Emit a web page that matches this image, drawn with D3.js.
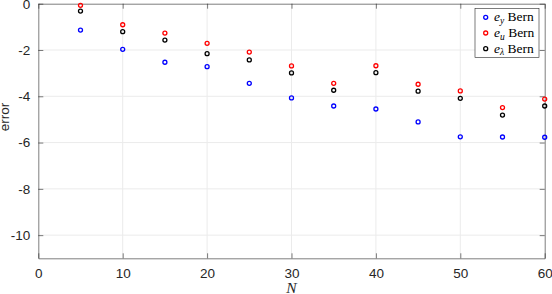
<!DOCTYPE html>
<html>
<head>
<meta charset="utf-8">
<script src="https://cdn.jsdelivr.net/npm/d3@7"></script>
<style>
  body { margin: 0; background: #fff; }
  svg { display: block; }
  .tick text { font-family: "Liberation Sans", Arial, sans-serif; font-size: 13.5px; fill: #262626; }
</style>
</head>
<body>
<svg id="chart" width="552" height="294"></svg>
<script>
const nValues = [5, 10, 15, 20, 25, 30, 35, 40, 45, 50, 55, 60];
const eY = [-1.14, -1.97, -2.53, -2.72, -3.44, -4.07, -4.42, -4.55, -5.11, -5.75, -5.76, -5.77];
const eU = [-0.07, -0.91, -1.27, -1.71, -2.09, -2.69, -3.44, -2.68, -3.48, -3.77, -4.49, -4.12];
const eL = [-0.32, -1.21, -1.57, -2.16, -2.43, -2.99, -3.74, -2.98, -3.78, -4.09, -4.81, -4.42];
const xTicks = [0, 10, 20, 30, 40, 50, 60];
const yTicks = [0, -2, -4, -6, -8, -10];

const series = [
  { name: "y", values: eY, color: "#0000ff" },
  { name: "u", values: eU, color: "#ff0000" },
  { name: "λ", values: eL, color: "#000000" }
];

const svg = d3.select("#chart");
const mLeft = 38.3, mRight = 544.7, mTop = 3.7, mBottom = 258.3;

const x = d3.scaleLinear().domain([0, 60]).range([mLeft, mRight]);
const y = d3.scaleLinear().domain([-11, 0]).range([mBottom, mTop]);

// grid
svg.append("g").selectAll("line").data(xTicks.slice(1, -1)).enter().append("line")
  .attr("x1", d => x(d)).attr("x2", d => x(d)).attr("y1", mTop).attr("y2", mBottom)
  .attr("stroke", "#ebebeb").attr("stroke-width", 1);
svg.append("g").selectAll("line").data(yTicks.slice(1)).enter().append("line")
  .attr("x1", mLeft).attr("x2", mRight).attr("y1", d => y(d)).attr("y2", d => y(d))
  .attr("stroke", "#ebebeb").attr("stroke-width", 1);

// axes
svg.append("g").attr("transform", "translate(0," + mBottom + ")")
  .call(d3.axisBottom(x).tickValues(xTicks).tickSizeInner(-5).tickSizeOuter(0).tickPadding(10));
svg.append("g").attr("transform", "translate(" + mLeft + ",0)")
  .call(d3.axisLeft(y).tickValues(yTicks).tickSizeInner(-5).tickSizeOuter(0).tickPadding(8)
    .tickFormat(d => d === 0 ? "0" : "-" + Math.abs(d)));
// mirrored ticks on top/right
svg.append("g").attr("transform", "translate(0," + mTop + ")")
  .call(d3.axisTop(x).tickValues(xTicks).tickSizeInner(-5).tickSizeOuter(0).tickFormat(""));
svg.append("g").attr("transform", "translate(" + mRight + ",0)")
  .call(d3.axisRight(y).tickValues(yTicks).tickSizeInner(-5).tickSizeOuter(0).tickFormat(""));
svg.selectAll(".domain, .tick line").attr("stroke", "#262626").attr("stroke-width", 0.6);

// markers
series.forEach(s => {
  svg.append("g").selectAll("circle").data(nValues).enter().append("circle")
    .attr("cx", d => x(d)).attr("cy", (d, i) => y(s.values[i])).attr("r", 2)
    .attr("fill", "none").attr("stroke", s.color).attr("stroke-width", 1.3);
});

// labels
svg.append("text").attr("x", x(30)).attr("y", 292.5)
  .attr("text-anchor", "middle").attr("font-family", "Liberation Serif, serif")
  .attr("font-style", "italic").attr("font-size", 15.5).attr("fill", "#262626").text("N");
svg.append("text").attr("transform", "translate(9,117) rotate(-90)")
  .attr("text-anchor", "middle").attr("font-family", "Liberation Sans, Arial, sans-serif")
  .attr("font-size", 13.5).attr("fill", "#262626").text("error");

// legend
const lg = svg.append("g");
lg.append("rect").attr("x", 475).attr("y", 8.5).attr("width", 64).attr("height", 49)
  .attr("fill", "#fff").attr("stroke", "#262626").attr("stroke-width", 0.6);
const legendY = d3.scalePoint().domain(series.map(s => s.name)).range([17.3, 48.7]);
series.forEach(s => {
  const cy = legendY(s.name);
  lg.append("circle").attr("cx", 485.7).attr("cy", cy).attr("r", 2)
    .attr("fill", "none").attr("stroke", s.color).attr("stroke-width", 1.3);
  const t = lg.append("text").attr("x", 494).attr("y", cy + 4)
    .attr("font-family", "Liberation Serif, DejaVu Serif, serif").attr("font-size", 13.5).attr("fill", "#000");
  t.append("tspan").attr("font-style", "italic").text("e");
  t.append("tspan").attr("font-style", "italic").attr("font-size", 9.5).attr("dy", 2.5).text(s.name);
  t.append("tspan").attr("dy", -2.5).text(" Bern");
});
</script>
</body>
</html>
